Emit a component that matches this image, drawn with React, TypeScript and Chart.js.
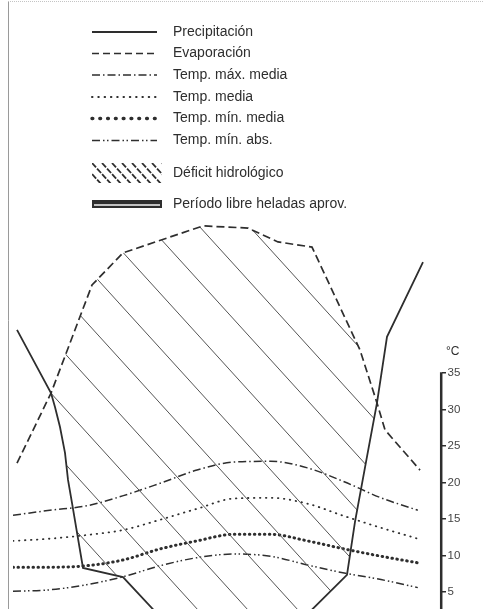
import React, { useEffect, useRef } from 'react';
import { Chart, registerables } from 'chart.js';

Chart.register(...registerables);

// ---- Data (months 1..12; P/E sampled at fractional month positions) ----
const months = [1, 2, 3, 4, 5, 6, 7, 8, 9, 10, 11, 12];
const tempMax = [15.5, 16.2, 16.8, 18.2, 19.9, 21.7, 22.8, 22.9, 22.0, 20.1, 17.9, 16.2];
const tempMed = [12.0, 12.3, 12.8, 13.5, 14.9, 16.4, 17.8, 17.9, 17.1, 15.4, 13.8, 12.3];
const tempMinMed = [8.4, 8.4, 8.6, 9.4, 10.9, 12.0, 12.9, 12.9, 12.0, 10.9, 9.9, 9.0];
const tempMinAbs = [5.1, 5.3, 6.0, 7.1, 8.6, 9.7, 10.2, 9.9, 8.7, 7.6, 6.7, 5.6];

const precipMonth = [1.109, 2.033, 2.141, 2.277, 2.413, 2.495, 2.603, 2.902, 3.989, 5.293, 8.609, 10.076, 10.293, 10.592, 10.891, 11.163, 12.141];
const precipMm = [81.8, 64.5, 60.7, 55.2, 48.1, 40.7, 34.4, 16.6, 14.1, 0, 0, 14.7, 29.2, 45.6, 61.8, 79.9, 100.4];

const evapMonth = [1.109, 2.033, 3.147, 3.989, 6.163, 7.386, 8.201, 9.125, 10.429, 10.891, 11.109, 12.06];
const evapMm = [45.3, 64.5, 94.1, 102.9, 110.3, 109.7, 105.9, 104.5, 76.3, 61.8, 54.4, 43.4];

const tempTicks = [0, 5, 10, 15, 20, 25, 30, 35];
const unitLabel = '°C';
const legendLabels = [
  'Precipitación',
  'Evaporación',
  'Temp. máx. media',
  'Temp. media',
  'Temp. mín. media',
  'Temp. mín. abs.',
  'Déficit hidrológico',
  'Período libre heladas aprov.',
];

// ---- Styles ----
const INK = '#2e2e2e';
const FONT = '"Liberation Sans", Arial, Helvetica, sans-serif';
const TEMP_TOP = 56.64;
const dashes: number[][] = [
  [],
  [8, 4],
  [8, 3, 1.5, 3],
  [0.5, 5.5],
  [0.5, 4.5],
  [8, 3, 1.5, 2.5, 1.5, 3],
];
const legendDashes: number[][] = [
  [],
  [7, 4],
  [8, 3, 1.5, 3],
  [0.5, 5.8],
  [0.8, 7],
  [8, 3, 1.5, 2.5, 1.5, 3],
];
const widths = [1.8, 1.7, 1.5, 1.8, 3, 1.5];
const legendWidths = [1.8, 1.7, 1.6, 2, 3.4, 1.6];
const caps: CanvasLineCap[] = ['butt', 'butt', 'butt', 'round', 'round', 'butt'];

function makeHatch(): CanvasPattern | string {
  const c = document.createElement('canvas');
  c.width = 50;
  c.height = 55;
  const g = c.getContext('2d');
  if (!g) return 'transparent';
  g.strokeStyle = '#555';
  g.lineWidth = 1;
  for (let k = -2; k <= 1; k++) {
    const x0 = 43.5 + 50 * k;
    g.beginPath();
    g.moveTo(x0 - 10, -11);
    g.lineTo(x0 + 60, 66);
    g.stroke();
  }
  const p = g.createPattern(c, 'repeat');
  return p || 'transparent';
}

const decorPlugin = {
  id: 'decor',
  afterDraw(chart: any) {
    const ctx: CanvasRenderingContext2D = chart.ctx;
    const ys = chart.scales.y;
    const area = chart.chartArea;
    ctx.save();

    // frame
    ctx.strokeStyle = '#9a9a9a';
    ctx.lineWidth = 1;
    ctx.beginPath();
    ctx.moveTo(8.5, 1);
    ctx.lineTo(8.5, 640);
    ctx.stroke();
    ctx.strokeStyle = '#c4c4c4';
    ctx.setLineDash([1, 1]);
    ctx.beginPath();
    ctx.moveTo(8, 1.5);
    ctx.lineTo(484, 1.5);
    ctx.stroke();
    ctx.setLineDash([]);

    // temperature axis line (0..35 only)
    const ax = area.right - 0.8;
    const yTop = ys.getPixelForValue(tempTicks[tempTicks.length - 1]);
    ctx.strokeStyle = INK;
    ctx.lineWidth = 2.5;
    ctx.beginPath();
    ctx.moveTo(ax, yTop - 0.8);
    ctx.lineTo(ax, ys.getPixelForValue(tempTicks[0]));
    ctx.stroke();

    // unit
    ctx.fillStyle = INK;
    ctx.font = `12px ${FONT}`;
    ctx.textBaseline = 'middle';
    ctx.textAlign = 'left';
    ctx.fillText(unitLabel, area.right + 4, yTop - 21);

    // legend
    const sx0 = 92;
    const sx1 = 157;
    const tx = 173;
    const rows = [32, 53.5, 75, 97, 118.5, 140.5];
    ctx.font = `14px ${FONT}`;
    for (let i = 0; i < 6; i++) {
      const yy = rows[i];
      ctx.strokeStyle = INK;
      ctx.lineWidth = legendWidths[i];
      ctx.lineCap = caps[i];
      ctx.setLineDash(legendDashes[i]);
      ctx.beginPath();
      ctx.moveTo(sx0, yy);
      ctx.lineTo(sx1, yy);
      ctx.stroke();
      ctx.setLineDash([]);
      ctx.fillText(legendLabels[i], tx, yy);
    }
    ctx.lineCap = 'butt';

    // hatch sample
    ctx.save();
    ctx.beginPath();
    ctx.rect(92, 163, 70, 20);
    ctx.clip();
    ctx.strokeStyle = INK;
    ctx.lineWidth = 1.8;
    ctx.setLineDash([6, 1.5]);
    for (let k = -3; k < 9; k++) {
      const x0 = 92 + k * 10;
      ctx.beginPath();
      ctx.moveTo(x0, 163);
      ctx.lineTo(x0 + 20, 185);
      ctx.stroke();
    }
    ctx.restore();
    ctx.fillText(legendLabels[6], tx, 173.5);

    // frost-free bar sample
    ctx.fillStyle = INK;
    ctx.fillRect(92, 200, 70, 8);
    ctx.strokeStyle = '#f4f4f4';
    ctx.lineWidth = 1.4;
    ctx.beginPath();
    ctx.moveTo(94, 205);
    ctx.lineTo(160, 205);
    ctx.stroke();
    ctx.fillStyle = INK;
    ctx.fillText(legendLabels[7], tx, 204);

    ctx.restore();
  },
};

export default function App() {
  const ref = useRef<HTMLCanvasElement | null>(null);

  useEffect(() => {
    if (!ref.current) return;
    const hatch = makeHatch();
    const tempSeries = [tempMax, tempMed, tempMinMed, tempMinAbs];
    const chart = new Chart(ref.current, {
      type: 'line',
      data: {
        datasets: [
          {
            label: legendLabels[0],
            data: precipMonth.map((m, i) => ({ x: m, y: precipMm[i] })),
            yAxisID: 'mm',
            borderColor: INK,
            borderWidth: widths[0],
            pointRadius: 0,
            tension: 0,
            fill: false,
          },
          {
            label: legendLabels[1],
            data: evapMonth.map((m, i) => ({ x: m, y: evapMm[i] })),
            yAxisID: 'mm',
            borderColor: INK,
            borderWidth: widths[1],
            borderDash: dashes[1],
            pointRadius: 0,
            tension: 0,
            fill: { target: 0, above: hatch as any, below: 'rgba(0,0,0,0)' },
          },
          ...tempSeries.map((arr, k) => ({
            label: legendLabels[k + 2],
            data: months.map((m, i) => ({ x: m, y: arr[i] })),
            yAxisID: 'y',
            borderColor: INK,
            borderWidth: widths[k + 2],
            borderDash: dashes[k + 2],
            borderCapStyle: caps[k + 2],
            pointRadius: 0,
            cubicInterpolationMode: 'monotone' as const,
            fill: false,
          })),
        ],
      },
      options: {
        animation: false,
        responsive: false,
        devicePixelRatio: 1,
        layout: { padding: { left: 13, right: 0, top: 215, bottom: 11.5 } },
        plugins: { legend: { display: false }, tooltip: { enabled: false } },
        scales: {
          x: { type: 'linear', display: false, min: 1, max: 1 + 429 / 36.8 },
          mm: { type: 'linear', display: false, min: 0, max: TEMP_TOP * 2 },
          y: {
            type: 'linear',
            position: 'right',
            min: 0,
            max: TEMP_TOP,
            afterBuildTicks: (scale: any) => {
              scale.ticks = tempTicks.map((v) => ({ value: v }));
            },
            afterFit: (scale: any) => {
              scale.width = 42;
            },
            border: { display: false },
            grid: {
              display: true,
              drawOnChartArea: false,
              drawTicks: true,
              tickLength: 4,
              color: INK,
              lineWidth: 1.5,
            },
            ticks: {
              color: '#444',
              padding: 1.5,
              font: { size: 11.5, family: FONT },
              callback: (v: any) => String(v),
            },
          },
        },
      },
      plugins: [decorPlugin],
    });
    return () => chart.destroy();
  }, []);

  return (
    <div
      style={{
        position: 'absolute',
        left: 0,
        top: 0,
        width: 484,
        height: 609,
        overflow: 'hidden',
        background: '#fff',
      }}
    >
      <canvas ref={ref} width={484} height={640} style={{ display: 'block' }} />
    </div>
  );
}
